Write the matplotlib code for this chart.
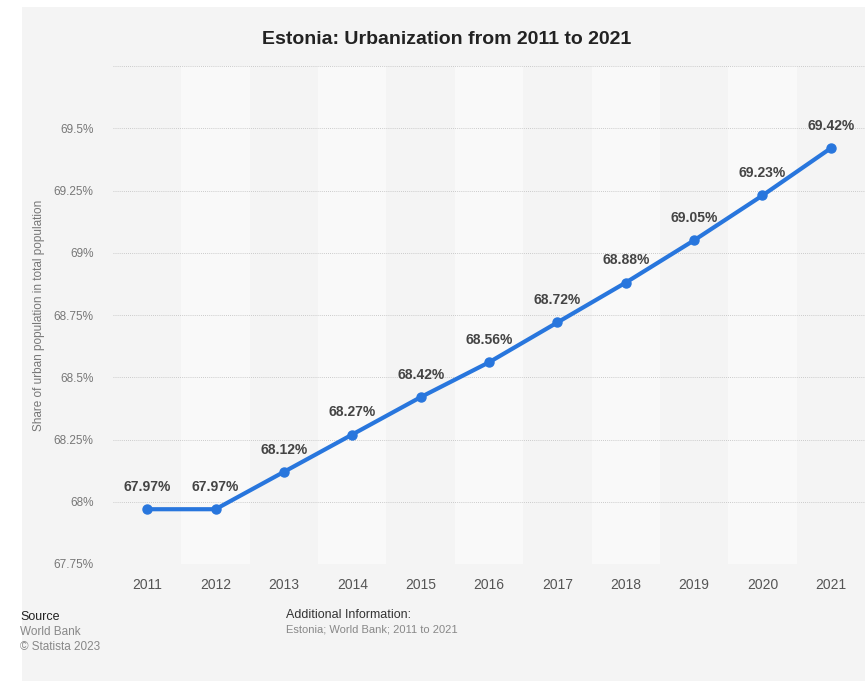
import matplotlib.pyplot as plt
from matplotlib.patches import Rectangle

plt.rcParams['font.family'] = ['Liberation Sans', 'DejaVu Sans']

# Data
years = [2011, 2012, 2013, 2014, 2015, 2016, 2017, 2018, 2019, 2020, 2021]
share = [67.97, 67.97, 68.12, 68.27, 68.42, 68.56, 68.72, 68.88, 69.05, 69.23, 69.42]
ytick_vals = [67.75, 68.0, 68.25, 68.5, 68.75, 69.0, 69.25, 69.5]
ytick_labels = ['67.75%', '68%', '68.25%', '68.5%', '68.75%', '69%', '69.25%', '69.5%']
grid_vals = ytick_vals + [69.75]

W, H = 865, 681
fig = plt.figure(figsize=(W / 100, H / 100), dpi=100)
fig.patch.set_facecolor('white')

# grey card background
bg = Rectangle((22 / W, 0), 1 - 22 / W, 1 - 7 / H, transform=fig.transFigure,
               facecolor='#f4f4f4', edgecolor='none', zorder=-10)
fig.patches.append(bg)

ax = fig.add_axes([113 / W, 1 - 564 / H, 1 - 113 / W, (564 - 66) / H])
ax.set_zorder(1)
ax.set_facecolor('none')
ax.set_xlim(2010.5, 2021.5)
ax.set_ylim(67.75, 69.75)

# alternating column bands
for i, yr in enumerate(years):
    if i % 2 == 1:
        ax.axvspan(yr - 0.5, yr + 0.5, color='#f9f9f9', zorder=0, lw=0)

for v in grid_vals:
    ax.axhline(v, color='#bdbdbd', lw=0.6, ls=(0, (1, 1.5)), zorder=1)

ax.plot(years, share, color='#2876dd', lw=3, marker='o', markersize=6.5, zorder=3,
        solid_capstyle='round')

for x, y in zip(years, share):
    ax.annotate(f'{y:.2f}%', (x, y), xytext=(0, 11), textcoords='offset points',
                ha='center', va='bottom', fontsize=10, fontweight='bold', color='#444444')

for s in ax.spines.values():
    s.set_visible(False)
ax.set_xticks(years)
ax.set_xticklabels([str(y) for y in years], fontsize=10, color='#555555')
ax.set_yticks(ytick_vals)
ax.set_yticklabels(ytick_labels, fontsize=8.5, color='#777777')
ax.tick_params(axis='both', length=0)
ax.tick_params(axis='x', pad=10)
ax.tick_params(axis='y', pad=14)

ax.set_ylabel('Share of urban population in total population', fontsize=8.5, color='#777777')
ax.yaxis.set_label_coords(-(113 - 45) / (W - 113), 0.5)

fig.text(447 / W, 1 - 40 / H, 'Estonia: Urbanization from 2011 to 2021', ha='center', va='center',
         fontsize=14, fontweight='bold', color='#222222')

fig.text(20 / W, 1 - 617 / H, 'Source', fontsize=9, color='#222222', va='center')
fig.text(20 / W, 1 - 632 / H, 'World Bank', fontsize=8.5, color='#888888', va='center')
fig.text(20 / W, 1 - 647 / H, '© Statista 2023', fontsize=8.5, color='#888888', va='center')
fig.text(286 / W, 1 - 615 / H, 'Additional Information:', fontsize=9, color='#333333', va='center')
fig.text(286 / W, 1 - 630 / H, 'Estonia; World Bank; 2011 to 2021', fontsize=8, color='#888888',
         va='center')

fig.savefig('out.png', dpi=100)
